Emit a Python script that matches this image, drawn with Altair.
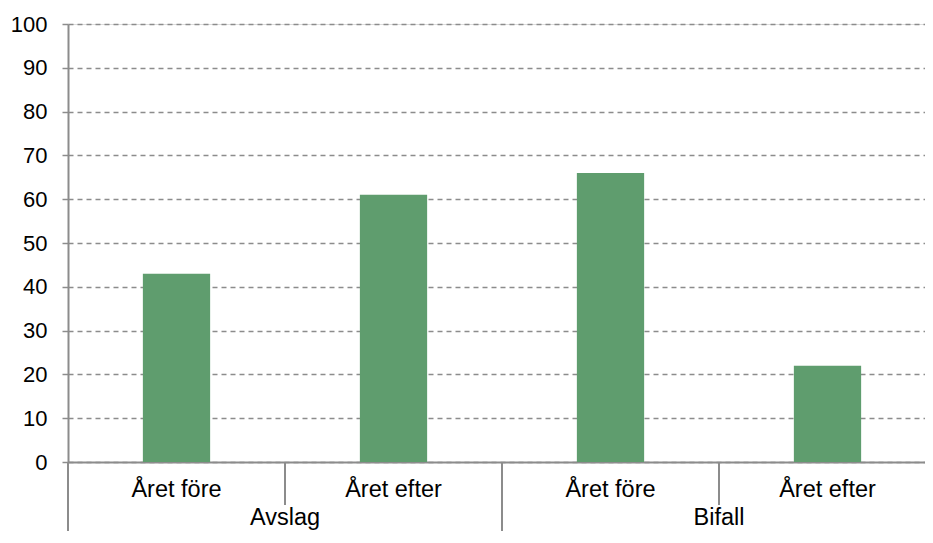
import altair as alt
import pandas as pd

groups = ["Avslag", "Avslag", "Bifall", "Bifall"]
periods = ["Året före", "Året efter", "Året före", "Året efter"]
values = [43, 61, 66, 22]
group_order = ["Avslag", "Bifall"]
period_order = ["Året före", "Året efter"]

df = pd.DataFrame({"group": groups, "period": periods, "value": values})
gdf = pd.DataFrame({"group": group_order})

FULL_W = 868   # full category span (partly beyond the visible edge)
W, H = 857, 438
FONT = "Liberation Sans"
FS_AX = 22
FS_CAT = 23.5
GREY = "#8c8c8c"

xscale = alt.Scale(domain=group_order, paddingInner=0, paddingOuter=0, range=[0, FULL_W])
offscale = alt.Scale(domain=period_order, paddingInner=0.69, paddingOuter=0.345)

bars = alt.Chart(df).mark_bar(color="#5f9d6e").encode(
    x=alt.X("group:N", scale=xscale, sort=group_order,
            axis=alt.Axis(title=None, labels=False, ticks=False, domain=True,
                          domainColor=GREY, domainWidth=2, grid=False)),
    xOffset=alt.XOffset("period:N", scale=offscale, sort=period_order),
    y=alt.Y("value:Q", scale=alt.Scale(domain=[0, 100], nice=False),
            axis=alt.Axis(title=None, values=list(range(0, 101, 10)),
                          grid=True, gridDash=[5, 4], gridColor=GREY, gridWidth=1.5,
                          domainColor=GREY, domainWidth=2, tickColor=GREY, tickSize=6,
                          tickWidth=1.5, labelFont=FONT, labelFontSize=FS_AX,
                          labelColor="#000000", labelPadding=15)),
)

sub_labels = alt.Chart(df).mark_text(font=FONT, fontSize=FS_CAT, color="#000000",
                                     baseline="alphabetic").encode(
    x=alt.X("group:N", scale=xscale, sort=group_order),
    xOffset=alt.XOffset("period:N", scale=offscale, sort=period_order),
    y=alt.value(H + 35),
    text="period:N",
)

group_labels = alt.Chart(gdf).mark_text(font=FONT, fontSize=FS_CAT, color="#000000",
                                        baseline="alphabetic").encode(
    x=alt.X("group:N", scale=xscale, sort=group_order),
    y=alt.value(H + 63),
    text="group:N",
)

outer_sep = alt.Chart(gdf).mark_rule(color=GREY, strokeWidth=2).encode(
    x=alt.X("group:N", scale=xscale, sort=group_order, bandPosition=0),
    y=alt.value(H),
    y2=alt.value(H + 100),
)

inner_sep = alt.Chart(gdf).mark_rule(color=GREY, strokeWidth=2).encode(
    x=alt.X("group:N", scale=xscale, sort=group_order, bandPosition=0.5),
    y=alt.value(H),
    y2=alt.value(H + 43),
)

chart = alt.layer(bars, sub_labels, group_labels, outer_sep, inner_sep).properties(
    width=W, height=H,
    autosize=alt.AutoSizeParams(type="none"),
    padding={"left": 60, "top": 16, "right": 0, "bottom": 69},
).configure_view(stroke=None, clip=False).configure(background="white")

chart.save("out.html", embed_options={"renderer": "svg", "actions": False})
